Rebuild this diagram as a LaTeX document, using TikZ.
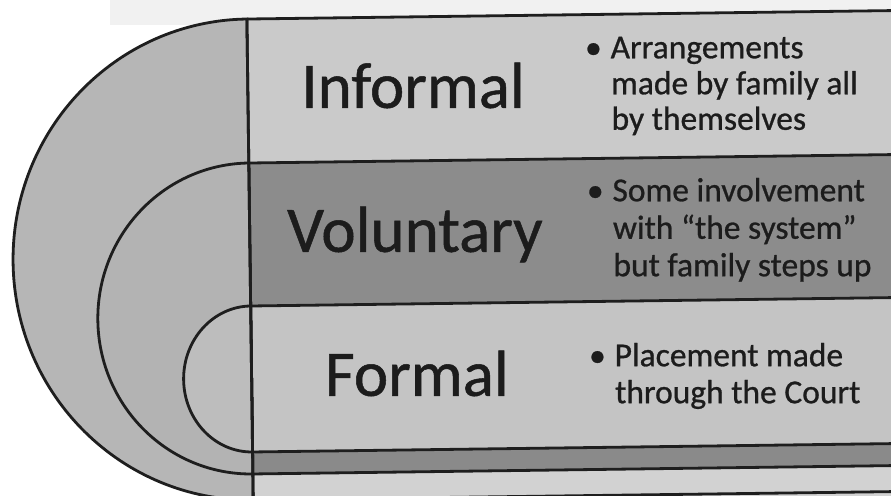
\documentclass[tikz,border=0pt]{standalone}
\usepackage{fontspec}
\setmainfont{Carlito}
\newfontfamily\scanfont{Carlito}[FakeBold=0.8]
\definecolor{ink}{HTML}{1E1E1E}
\definecolor{txt}{HTML}{1C1C1C}
\definecolor{bandA}{HTML}{CACACA}
\definecolor{bandB}{HTML}{8C8C8C}
\definecolor{bandC}{HTML}{C4C4C4}
\definecolor{bandD}{HTML}{8A8A8A}
\definecolor{bandE}{HTML}{D2D2D2}
\definecolor{ringA}{HTML}{B6B6B6}
\definecolor{ringB}{HTML}{B3B3B3}
\definecolor{ringC}{HTML}{BDBDBD}
\definecolor{topgray}{HTML}{F1F1F1}
\tikzset{
  edge/.style={draw=ink, line width=2.8pt},
  bigtext/.style={font=\scanfont\fontsize{65}{78}\selectfont, text=txt, anchor=base, inner sep=0pt},
  linetext/.style={font=\scanfont\fontsize{33.5}{40}\selectfont, text=txt, anchor=base west, inner sep=0pt},
  bulletdot/.style={font=\scanfont\fontsize{33.5}{40}\selectfont, text=txt, anchor=base, inner sep=0pt},
}
\begin{document}
\begin{tikzpicture}[x=1pt,y=1pt]
\useasboundingbox (0,0) rectangle (891,-495);
\clip (0,0) rectangle (891,-495);
\fill[white] (0,0) rectangle (891,-495);
\fill[topgray] (110,0) rectangle (891,-25);
\begin{scope}[rotate around={0.75:(250,-256)}]
  % right-hand bands
  \fill[bandA] (250,-19) rectangle (940,-163);
  \fill[bandB] (250,-163) rectangle (940,-306);
  \fill[bandC] (250,-306) rectangle (940,-452);
  \fill[bandD] (250,-452) rectangle (940,-474);
  \fill[bandE] (250,-474) rectangle (940,-510);
  % left half-rounds
  \path[edge, fill=ringA] (250,-19) arc[start angle=90, end angle=270, x radius=237pt, y radius=240.5pt] -- cycle;
  \path[edge, fill=ringB] (250,-163) arc[start angle=90, end angle=270, x radius=153pt, y radius=155.5pt] -- cycle;
  \path[edge, fill=ringC] (250,-306) arc[start angle=90, end angle=270, x radius=68pt, y radius=73pt] -- cycle;
  % band borders
  \draw[edge] (250,-19) -- (940,-19);
  \draw[edge] (250,-163) -- (940,-163);
  \draw[edge] (250,-306) -- (940,-306);
  \draw[edge] (250,-452) -- (940,-452);
  \draw[edge] (250,-474) -- (940,-474);
  \draw[edge] (250,-500) -- (940,-500);
  \draw[edge] (250,-19) -- (250,-510);
  % titles
  \node[bigtext] (informal) at (415,-110) {Informal};
  \node[bigtext] (voluntary) at (415,-254) {Voluntary};
  \node[bigtext] (formal) at (415,-398) {Formal};
  % bullets: informal
  \node[bulletdot] (b1) at (596,-63) {•};
  \node[linetext] (i1) at (613,-63) {Arrangements};
  \node[linetext] (i2) at (613,-99) {made by family all};
  \node[linetext] (i3) at (613,-134.5) {by themselves};
  % bullets: voluntary
  \node[bulletdot] (b2) at (596,-206) {•};
  \node[linetext] (v1) at (613,-206) {Some involvement};
  \node[linetext] (v2) at (613,-243.5) {with “the system”};
  \node[linetext] (v3) at (613,-281) {but family steps up};
  % bullets: formal
  \node[bulletdot] (b3) at (596,-371) {•};
  \node[linetext] (f1) at (613,-371) {Placement made};
  \node[linetext] (f2) at (613,-408) {through the Court};
\end{scope}
\end{tikzpicture}
\end{document}
